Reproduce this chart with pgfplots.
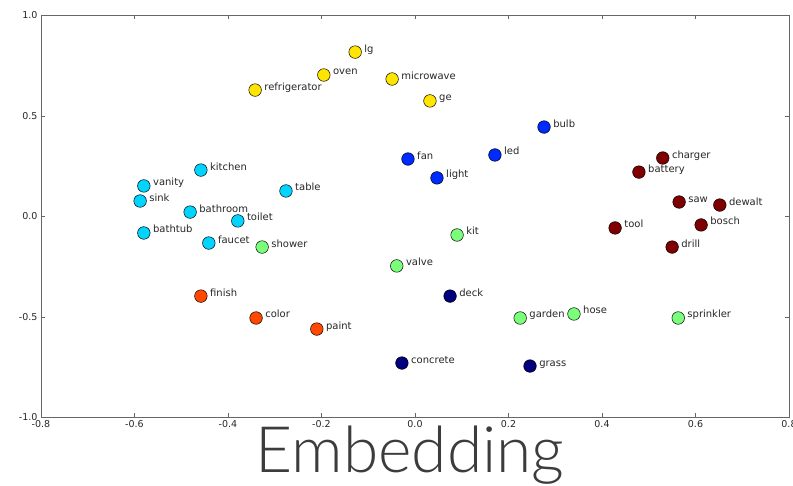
\documentclass[border=0pt]{standalone}
\usepackage{pgfplots}
\pgfplotsset{compat=1.18}
\usepackage{fontspec}
\setmainfont{DejaVu Sans}
\newfontfamily\titlefont{Lato Light}
\definecolor{jyellow}{RGB}{255,229,0}
\definecolor{jblue}{RGB}{0,43,255}
\definecolor{jdred}{RGB}{127,0,0}
\definecolor{jcyan}{RGB}{0,212,255}
\definecolor{jgreen}{RGB}{123,255,123}
\definecolor{jorange}{RGB}{255,73,0}
\definecolor{jnavy}{RGB}{0,0,127}
\definecolor{axgray}{RGB}{102,102,102}
\definecolor{txt}{RGB}{38,38,38}
\begin{document}
\begin{tikzpicture}
\useasboundingbox (0,0) rectangle (793pt,486pt);
\node[anchor=base, inner sep=0pt, text=txt!90] at (410pt,13pt) {\titlefont\fontsize{64}{70}\selectfont Embedding};
\begin{axis}[
  at={(41pt,68.5pt)}, anchor=south west,
  scale only axis, width=748pt, height=402pt,
  xmin=-0.8, xmax=0.8, ymin=-1, ymax=1,
  xtick={-0.8,-0.6,-0.4,-0.2,0,0.2,0.4,0.6,0.8},
  ytick={-1,-0.5,0,0.5,1},
  tick align=inside, tick pos=both, ticklabel pos=left,
  major tick length=4pt,
  axis line style={axgray, line width=0.9pt},
  tick style={axgray, line width=0.7pt},
  /pgf/number format/assume math mode=true,
  /pgf/number format/.cd, fixed, fixed zerofill, precision=1, /pgfplots/.cd,
  ticklabel style={font=\fontsize{9.5}{10}\selectfont, text=txt},
  xticklabel style={yshift=1pt},
  clip=false,
  every axis plot/.append style={only marks, mark=*, mark size=6.3pt,
    nodes near coords, point meta=explicit symbolic,
    nodes near coords style={anchor=base west, xshift=9pt, yshift=0pt, inner sep=0pt,
      font=\fontsize{10}{12}\selectfont, text=txt}},
]
\addplot[mark options={fill=jyellow, draw=black, line width=0.5pt}] table[meta=label] {
x y label
-0.128 0.818 lg
-0.195 0.704 oven
-0.342 0.629 refrigerator
-0.049 0.684 microwave
0.032 0.575 ge
};
\addplot[mark options={fill=jblue, draw=black, line width=0.5pt}] table[meta=label] {
x y label
0.276 0.445 bulb
-0.015 0.286 fan
0.171 0.306 led
0.047 0.192 light
};
\addplot[mark options={fill=jdred, draw=black, line width=0.5pt}] table[meta=label] {
x y label
0.530 0.291 charger
0.479 0.221 battery
0.565 0.072 saw
0.652 0.057 dewalt
0.612 -0.042 bosch
0.428 -0.057 tool
0.550 -0.152 drill
};
\addplot[mark options={fill=jcyan, draw=black, line width=0.5pt}] table[meta=label] {
x y label
-0.458 0.231 kitchen
-0.580 0.152 vanity
-0.588 0.077 sink
-0.276 0.127 table
-0.481 0.022 bathroom
-0.379 -0.022 toilet
-0.580 -0.082 bathtub
-0.441 -0.132 faucet
};
\addplot[mark options={fill=jgreen, draw=black, line width=0.5pt}] table[meta=label] {
x y label
0.090 -0.092 kit
-0.327 -0.152 shower
-0.039 -0.246 valve
0.225 -0.505 garden
0.340 -0.485 hose
0.563 -0.505 sprinkler
};
\addplot[mark options={fill=jorange, draw=black, line width=0.5pt}] table[meta=label] {
x y label
-0.458 -0.396 finish
-0.340 -0.505 color
-0.210 -0.560 paint
};
\addplot[mark options={fill=jnavy, draw=black, line width=0.5pt}] table[meta=label] {
x y label
0.075 -0.396 deck
-0.028 -0.729 concrete
0.246 -0.744 grass
};
\end{axis}
\end{tikzpicture}
\end{document}
